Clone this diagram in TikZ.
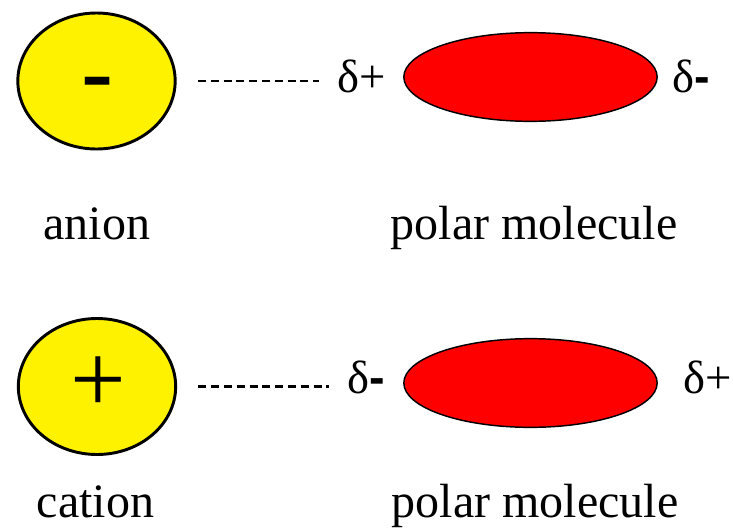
\documentclass[tikz,border=0pt]{standalone}
\usepackage{fontspec}
\setmainfont{Liberation Serif}
\newfontfamily\tiretfont{Liberation Sans}
\usetikzlibrary{shapes.geometric}
\newcommand{\tiret}{{\tiretfont\bfseries -}}

\begin{document}
\begin{tikzpicture}[line cap=round,line join=round,x=0.75pt,y=-0.75pt,
	ion/.style={ellipse,draw=black,line width=2.2pt,fill=yellow,minimum width=118pt,minimum height=102pt,inner sep=0pt},
	polaire/.style={ellipse,draw=black,line width=1.1pt,fill=red,minimum width=190pt,minimum height=66.5pt,inner sep=0pt},
	charge/.style={inner sep=0pt,anchor=base west,font=\fontsize{35}{38}\selectfont},
	etiquette/.style={inner sep=0pt,anchor=base,font=\fontsize{36}{40}\selectfont},
	liaison/.style={line width=2pt,line cap=butt,dash pattern=on 6pt off 3.6pt,shorten <=16pt,shorten >=13.5pt}]
			\path[use as bounding box,clip] (0,0) rectangle (733,529);
			%anion et molecule
			\node[ion] (anion) at (96.5,81) {};
			\node[inner sep=0pt,anchor=base,font=\fontsize{50}{50}\selectfont] (moins) at (98,98) {\scalebox{1.45}[1]{\tiret}};
			\node[polaire] (mol1) at (530.5,77) {};
			\node[charge] (dp1) at (337,92) {δ+};
			\node[charge] (dm1) at (672,92) {δ\tiret};
			\draw[liaison] (anion.east) -- (anion.east -| dp1.west);
			%cation et molecule
			\node[ion] (cation) at (97,386.5) {};
			\node[inner sep=0pt,anchor=base,font=\fontsize{74}{74}\selectfont] (plus) at (98,412) {+};
			\node[polaire] (mol2) at (530.5,383) {};
			\node[charge] (dm2) at (347,393) {δ\tiret};
			\node[charge] (dp2) at (683,393) {δ+};
			\draw[liaison] (cation.east) -- (cation.east -| dm2.west);
			%noms
			\node[etiquette] (nom1) at (97,239) {anion};
			\node[etiquette] (nom2) at (534,239) {polar molecule};
			\node[etiquette] (nom3) at (95.5,517) {cation};
			\node[etiquette] (nom4) at (535,517) {polar molecule};
\end{tikzpicture}
\end{document}
